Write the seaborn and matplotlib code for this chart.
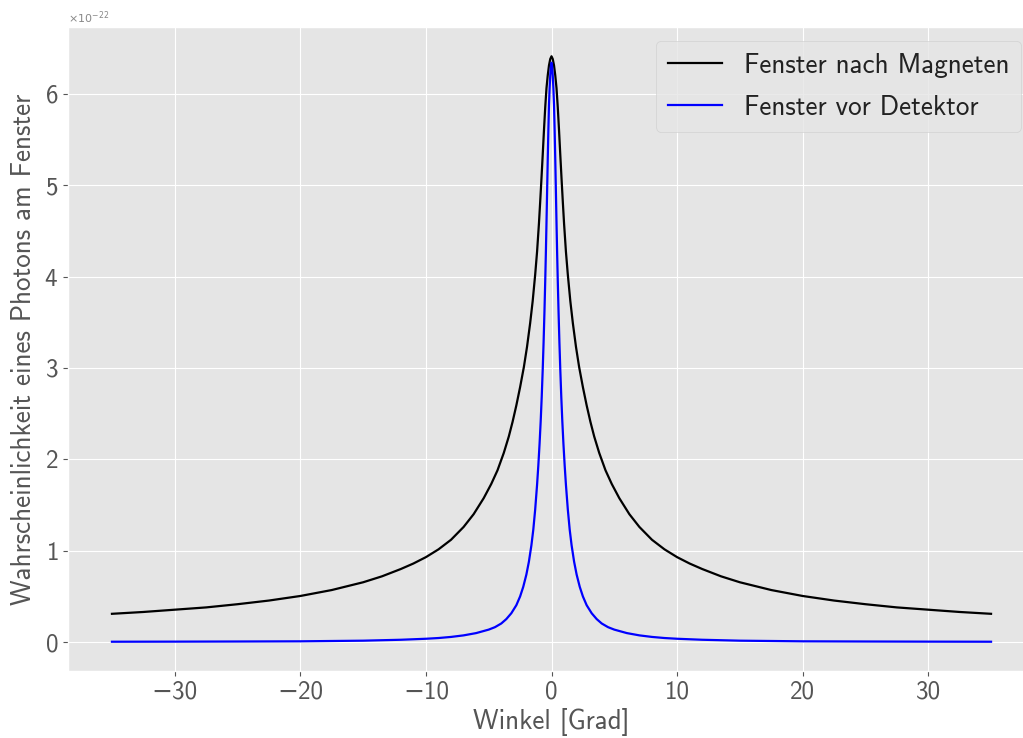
import matplotlib
matplotlib.use("Agg")
import matplotlib.pyplot as plt
import matplotlib.ticker as mticker
import seaborn as sns
import pandas as pd

# ---- data (y in units of 1e-22) ----
SCALE = 1e-22

angle_magnet = [-35, -32.5, -30, -27.5, -25, -22.5, -20, -17.5, -15, -13.5, -12, -11,
                -10, -9, -8, -7, -6.2, -5.4, -4.8, -4.3, -3.8, -3.4, -3.1, -2.8, -2.5,
                -2.2, -1.95, -1.7, -1.5, -1.3, -1.15, -1.0, -0.9, -0.8, -0.7, -0.6,
                -0.5, -0.4, -0.3, -0.2, -0.1, 0,
                0.1, 0.2, 0.3, 0.4, 0.5, 0.6, 0.7, 0.8, 0.9, 1.0, 1.15, 1.3, 1.5,
                1.7, 1.95, 2.2, 2.5, 2.8, 3.1, 3.4, 3.8, 4.3, 4.8, 5.4, 6.2, 7, 8, 9,
                10, 11, 12, 13.5, 15, 17.5, 20, 22.5, 25, 27.5, 30, 32.5, 35]
prob_magnet = [0.31, 0.33, 0.355, 0.38, 0.415, 0.455, 0.505, 0.57, 0.655, 0.72, 0.80, 0.86,
               0.93, 1.015, 1.12, 1.26, 1.40, 1.575, 1.73, 1.88, 2.07, 2.25, 2.41, 2.59, 2.79,
               3.01, 3.23, 3.49, 3.73, 4.02, 4.27, 4.58, 4.82, 5.07, 5.33, 5.6,
               5.85, 6.06, 6.20, 6.31, 6.38, 6.41,
               6.38, 6.31, 6.20, 6.06, 5.85, 5.6, 5.33, 5.07, 4.82, 4.58, 4.27, 4.02, 3.73,
               3.49, 3.23, 3.01, 2.79, 2.59, 2.41, 2.25, 2.07, 1.88, 1.73, 1.575, 1.40, 1.26,
               1.12, 1.015, 0.93, 0.86, 0.80, 0.72, 0.655, 0.57, 0.505, 0.455, 0.415, 0.38,
               0.355, 0.33, 0.31]

angle_detector = [-35, -30, -25, -20, -15, -12, -10, -9, -8, -7, -6, -5, -4.5, -4, -3.6,
                  -3.2, -2.8, -2.5, -2.25, -2, -1.8, -1.6, -1.45, -1.3, -1.15, -1.05,
                  -0.95, -0.86, -0.78, -0.7, -0.63, -0.56, -0.5, -0.45, -0.4, -0.35,
                  -0.3, -0.25, -0.2, -0.15, -0.1, -0.05, 0,
                  0.05, 0.1, 0.15, 0.2, 0.25, 0.3, 0.35, 0.4, 0.45, 0.5, 0.56, 0.63,
                  0.7, 0.78, 0.86, 0.95, 1.05, 1.15, 1.3, 1.45, 1.6, 1.8, 2, 2.25, 2.5,
                  2.8, 3.2, 3.6, 4, 4.5, 5, 6, 7, 8, 9, 10, 12, 15, 20, 25, 30, 35]
prob_detector = [0.0045, 0.0055, 0.007, 0.009, 0.016, 0.026, 0.037, 0.045, 0.057, 0.074,
                 0.099, 0.137, 0.164, 0.204, 0.252, 0.316, 0.404, 0.50, 0.605, 0.74, 0.88,
                 1.06, 1.23, 1.45, 1.72, 1.93, 2.17, 2.42, 2.68, 2.98, 3.28, 3.62, 3.95,
                 4.25, 4.58, 4.93, 5.28, 5.6, 5.88, 6.06, 6.2, 6.3, 6.34,
                 6.3, 6.2, 6.06, 5.88, 5.6, 5.28, 4.93, 4.58, 4.25, 3.95, 3.62, 3.28,
                 2.98, 2.68, 2.42, 2.17, 1.93, 1.72, 1.45, 1.23, 1.06, 0.88, 0.74, 0.605,
                 0.50, 0.404, 0.316, 0.252, 0.204, 0.164, 0.137, 0.099, 0.074, 0.057,
                 0.045, 0.037, 0.026, 0.016, 0.009, 0.007, 0.0055, 0.0045]

label_magnet = "Fenster nach Magneten"
label_detector = "Fenster vor Detektor"
xlabel = "Winkel [Grad]"
ylabel = "Wahrscheinlichkeit eines Photons am Fenster"

df_m = pd.DataFrame({"x": angle_magnet, "y": [v * SCALE for v in prob_magnet]})
df_d = pd.DataFrame({"x": angle_detector, "y": [v * SCALE for v in prob_detector]})

# ---- style ----
plt.style.use("ggplot")
plt.rcParams["font.family"] = ["cmss10", "DejaVu Sans"]
plt.rcParams["mathtext.fontset"] = "dejavusans"
plt.rcParams["axes.formatter.use_mathtext"] = True

W, H = 1023, 738
fig = plt.figure(figsize=(W / 100, H / 100), dpi=100)
# the reference figure is cropped on the right: the axes run slightly past the edge
ax = fig.add_axes([68 / W, 1 - 671 / H, (1035 - 68) / W, (671 - 27) / H])

sns.lineplot(data=df_m, x="x", y="y", ax=ax, color="black", linewidth=1.6,
             label=label_magnet, estimator=None, sort=False)
sns.lineplot(data=df_d, x="x", y="y", ax=ax, color="blue", linewidth=1.6,
             label=label_detector, estimator=None, sort=False)

ax.set_xticks([-30, -20, -10, 0, 10, 20, 30])
ax.xaxis.set_major_formatter(mticker.FuncFormatter(
    lambda v, p: ("\u2212" if v < 0 else "") + f"{abs(int(round(v)))}"))
ax.yaxis.set_major_formatter(mticker.ScalarFormatter(useMathText=True))
ax.tick_params(axis="both", labelsize=18, colors="#555555")
off = ax.yaxis.get_offset_text()
off.set_family("DejaVu Sans")
off.set_fontsize(8)
off.set_color("#888888")

ax.set_xlabel(xlabel, fontsize=19.5, color="#555555", labelpad=3)
ax.set_ylabel(ylabel, fontsize=19.5, color="#555555", labelpad=6)

leg = ax.legend(loc="upper right", fontsize=19.5, handlelength=2.0,
                labelspacing=0.62, borderpad=0.45)
for t in leg.get_texts():
    t.set_color("#222222")

fig.savefig("out.png", dpi=100)
